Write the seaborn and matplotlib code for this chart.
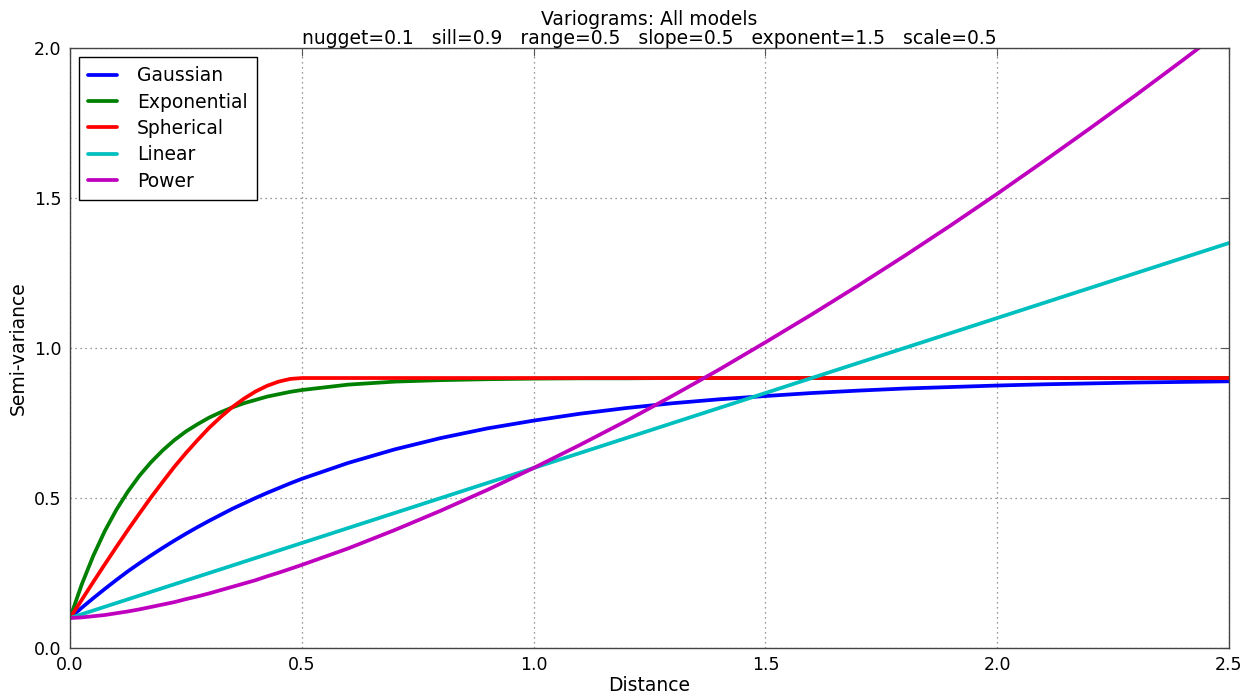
import pandas as pd
import seaborn as sns
import matplotlib.pyplot as plt

# distance grid
distance = [0.0, 0.025, 0.05, 0.075, 0.1, 0.125, 0.15, 0.175, 0.2, 0.225, 0.25,
            0.275, 0.3, 0.325, 0.35, 0.375, 0.4, 0.425, 0.45, 0.475, 0.5,
            0.6, 0.7, 0.8, 0.9, 1.0, 1.1, 1.2, 1.3, 1.4, 1.5, 1.6, 1.7, 1.8,
            1.9, 2.0, 2.1, 2.2, 2.3, 2.4, 2.5]

gaussian = [0.100, 0.134, 0.166, 0.197, 0.227, 0.256, 0.283, 0.309, 0.334, 0.358, 0.381,
            0.403, 0.424, 0.444, 0.464, 0.482, 0.500, 0.517, 0.533, 0.549, 0.564,
            0.617, 0.662, 0.700, 0.732, 0.758, 0.781, 0.800, 0.816, 0.829, 0.840,
            0.850, 0.858, 0.865, 0.870, 0.875, 0.879, 0.882, 0.885, 0.887, 0.889]

exponential = [0.100, 0.211, 0.307, 0.390, 0.461, 0.522, 0.575, 0.620, 0.659, 0.693, 0.722,
               0.746, 0.768, 0.786, 0.802, 0.816, 0.827, 0.838, 0.846, 0.854, 0.860,
               0.878, 0.888, 0.893, 0.896, 0.898, 0.899, 0.899, 0.900, 0.900, 0.900,
               0.900, 0.900, 0.900, 0.900, 0.900, 0.900, 0.900, 0.900, 0.900, 0.900]

spherical = [0.100, 0.160, 0.220, 0.279, 0.337, 0.394, 0.449, 0.503, 0.554, 0.604, 0.650,
             0.693, 0.734, 0.770, 0.803, 0.831, 0.855, 0.874, 0.888, 0.897, 0.900,
             0.900, 0.900, 0.900, 0.900, 0.900, 0.900, 0.900, 0.900, 0.900, 0.900,
             0.900, 0.900, 0.900, 0.900, 0.900, 0.900, 0.900, 0.900, 0.900, 0.900]

linear = [0.100, 0.1125, 0.125, 0.1375, 0.150, 0.1625, 0.175, 0.1875, 0.200, 0.2125, 0.225,
          0.2375, 0.250, 0.2625, 0.275, 0.2875, 0.300, 0.3125, 0.325, 0.3375, 0.350,
          0.400, 0.450, 0.500, 0.550, 0.600, 0.650, 0.700, 0.750, 0.800, 0.850,
          0.900, 0.950, 1.000, 1.050, 1.100, 1.150, 1.200, 1.250, 1.300, 1.350]

power = [0.100, 0.102, 0.106, 0.110, 0.116, 0.122, 0.129, 0.137, 0.145, 0.153, 0.163,
         0.172, 0.182, 0.193, 0.204, 0.215, 0.226, 0.239, 0.251, 0.264, 0.277,
         0.332, 0.393, 0.458, 0.527, 0.600, 0.677, 0.757, 0.841, 0.928, 1.019,
         1.112, 1.208, 1.307, 1.409, 1.514, 1.622, 1.732, 1.844, 1.959, 2.076]

models = ["Gaussian", "Exponential", "Spherical", "Linear", "Power"]
colors = ["#0000ff", "#008000", "#ff0000", "#00bfbf", "#bf00bf"]

frames = []
for name, vals in zip(models, [gaussian, exponential, spherical, linear, power]):
    frames.append(pd.DataFrame({"Distance": distance, "Semi-variance": vals, "model": name}))
data = pd.concat(frames, ignore_index=True)

sns.set_style("white")
plt.rcParams['font.family'] = ['DejaVu Sans']
plt.rcParams['text.color'] = 'black'
plt.rcParams['axes.labelcolor'] = 'black'
plt.rcParams['xtick.color'] = '#555555'
plt.rcParams['ytick.color'] = '#555555'
plt.rcParams['xtick.labelcolor'] = 'black'
plt.rcParams['ytick.labelcolor'] = 'black'

fig = plt.figure(figsize=(12.53, 6.98), dpi=100)
ax = fig.add_axes([0.0559, 0.0716, 0.9249, 0.8596])

sns.lineplot(data=data, x="Distance", y="Semi-variance", hue="model", hue_order=models,
             palette=colors, linewidth=2.7, sort=False, ax=ax)

ax.set_xlim(0, 2.5)
ax.set_ylim(0, 2.0)
ax.set_xticks([0.0, 0.5, 1.0, 1.5, 2.0, 2.5])
ax.set_yticks([0.0, 0.5, 1.0, 1.5, 2.0])
ax.set_xticklabels(["0.0", "0.5", "1.0", "1.5", "2.0", "2.5"])
ax.set_yticklabels(["0.0", "0.5", "1.0", "1.5", "2.0"])
ax.tick_params(direction="in", length=6, width=0.8, top=True, right=True,
               labelsize=12.5, pad=6)
ax.grid(True, linestyle=(0, (1, 3)), color="#777777", linewidth=0.9)

for spine in ax.spines.values():
    spine.set_color("#444444")
    spine.set_linewidth(1.0)

ax.set_xlabel("Distance", fontsize=13.5, labelpad=1)
ax.set_ylabel("Semi-variance", fontsize=13.5, labelpad=5)
ax.set_title("Variograms: All models\n"
             "nugget=0.1   sill=0.9   range=0.5   slope=0.5   exponent=1.5   scale=0.5",
             fontsize=13.5, linespacing=1.0, pad=3)

handles, labels = ax.get_legend_handles_labels()
leg = ax.legend(handles, labels, loc="upper left", fontsize=13.5, frameon=True,
                fancybox=False, edgecolor="black", framealpha=1,
                borderpad=0.5, labelspacing=0.39, handlelength=1.5, handletextpad=1.1,
                borderaxespad=0, bbox_to_anchor=(0.0078, 0.985))
leg.get_frame().set_linewidth(1.0)

fig.savefig("out.png", dpi=100)
